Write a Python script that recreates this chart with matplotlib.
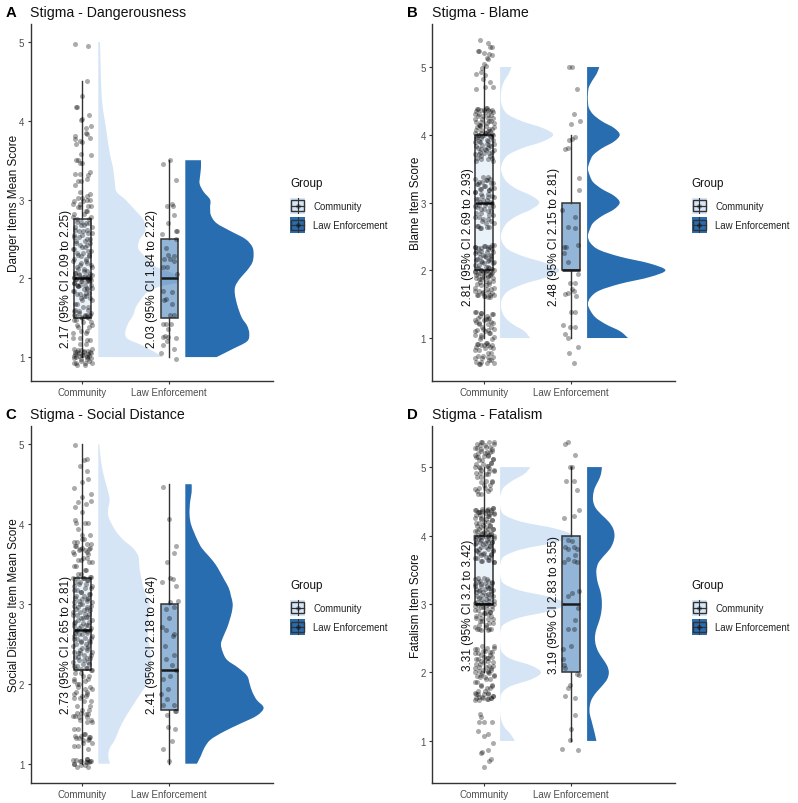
import matplotlib
matplotlib.use("Agg")
import matplotlib.pyplot as plt
import numpy as np
from matplotlib.legend_handler import HandlerBase
from matplotlib.lines import Line2D
from matplotlib.patches import Patch, PathPatch, Rectangle
from matplotlib.path import Path

plt.rcParams['font.family'] = ['Liberation Sans', 'DejaVu Sans']

groups = ["Community", "Law Enforcement"]
titles = ["Stigma - Dangerousness", "Stigma - Blame", "Stigma - Social Distance", "Stigma - Fatalism"]
tags = ["A", "B", "C", "D"]
ylabels = ["Danger Items Mean Score", "Blame Item Score", "Social Distance Item Mean Score", "Fatalism Item Score"]
ylims = [(0.70, 5.23), (0.37, 5.635), (0.762, 5.229), (0.39, 5.60)]

ci_text_comm = ["2.17 (95% CI 2.09 to 2.25)", "2.81 (95% CI 2.69 to 2.93)", "2.73 (95% CI 2.65 to 2.81)", "3.31 (95% CI 3.2 to 3.42)"]
ci_text_le = ["2.03 (95% CI 1.84 to 2.22)", "2.48 (95% CI 2.15 to 2.81)", "2.41 (95% CI 2.18 to 2.64)", "3.19 (95% CI 2.83 to 3.55)"]
ci_y = [2.0, 2.5, 2.5, 3.0]

# low whisker, q1, median, q3, high whisker
box_comm = [(1, 1.5, 2, 2.75, 4.5), (1, 2, 3, 4, 5), (1, 2.17, 2.67, 3.33, 5), (2, 3, 3, 4, 5)]
box_le = [(1, 1.5, 2, 2.5, 3.5), (1, 2, 2, 3, 4), (1, 1.67, 2.17, 3, 4.5), (1, 2, 3, 4, 5)]

# densities
dens_a_comm_y = [1.0, 1.14, 1.23, 1.31, 1.42, 1.53, 1.65, 1.82, 1.9, 1.95, 2.05, 2.15, 2.25, 2.38, 2.5, 2.6, 2.74, 2.87, 3.0, 3.1, 3.22, 3.4, 3.6, 3.9, 4.3, 5.0]
dens_a_comm_w = [0.75, 0.52, 0.34, 0.31, 0.34, 0.40, 0.44, 0.56, 0.72, 0.92, 0.88, 0.66, 0.56, 0.46, 0.48, 0.54, 0.52, 0.42, 0.31, 0.21, 0.19, 0.17, 0.13, 0.09, 0.04, 0.02]
dens_a_le_y = [1.0, 1.1, 1.2, 1.3, 1.4, 1.5, 1.65, 1.8, 1.9, 2.0, 2.1, 2.2, 2.3, 2.4, 2.5, 2.6, 2.7, 2.8, 2.9, 3.0, 3.1, 3.2, 3.3, 3.4, 3.5]
dens_a_le_w = [0.36, 0.54, 0.71, 0.735, 0.71, 0.65, 0.60, 0.57, 0.575, 0.63, 0.71, 0.77, 0.785, 0.77, 0.69, 0.52, 0.36, 0.295, 0.285, 0.285, 0.21, 0.165, 0.17, 0.18, 0.18]

dens_b_y = [1.0, 1.1, 1.2, 1.3, 1.4, 1.5, 1.6, 1.7, 1.8, 1.9, 2.0, 2.1, 2.2, 2.3, 2.4, 2.5, 2.6, 2.7, 2.8, 2.9, 3.0,
            3.1, 3.2, 3.3, 3.4, 3.5, 3.6, 3.7, 3.8, 3.9, 4.0, 4.1, 4.2, 4.3, 4.4, 4.5, 4.6, 4.7, 4.8, 4.9, 5.0]
dens_b_comm_w = [0.345, 0.28, 0.15, 0.06, 0.02, 0.01, 0.03, 0.10, 0.28, 0.54, 0.68, 0.54, 0.28, 0.10, 0.03, 0.01, 0.03, 0.08, 0.19, 0.36, 0.45,
                 0.36, 0.19, 0.08, 0.03, 0.01, 0.03, 0.09, 0.25, 0.49, 0.61, 0.49, 0.25, 0.09, 0.03, 0.01, 0.01, 0.02, 0.05, 0.10, 0.13]
dens_b_le_w = [0.47, 0.38, 0.22, 0.10, 0.04, 0.01, 0.04, 0.14, 0.38, 0.72, 0.90, 0.72, 0.38, 0.14, 0.04, 0.01, 0.03, 0.07, 0.17, 0.31, 0.375,
               0.31, 0.17, 0.07, 0.03, 0.01, 0.03, 0.07, 0.17, 0.31, 0.375, 0.31, 0.17, 0.07, 0.02, 0.01, 0.01, 0.02, 0.06, 0.11, 0.14]

dens_c_comm_y = [1.0, 1.1, 1.2, 1.3, 1.5, 1.7, 1.9, 2.0, 2.2, 2.4, 2.6, 2.8, 3.0, 3.1, 3.2, 3.3, 3.4, 3.5, 3.6, 3.7, 3.8, 3.9, 4.0, 4.1, 4.2, 4.3, 4.4, 4.6, 4.8, 5.0]
dens_c_comm_w = [0.134, 0.115, 0.134, 0.19, 0.27, 0.38, 0.50, 0.56, 0.60, 0.60, 0.57, 0.58, 0.59, 0.555, 0.52, 0.50, 0.48, 0.47, 0.46, 0.40, 0.29, 0.21, 0.155, 0.115, 0.115, 0.13, 0.115, 0.065, 0.03, 0.012]
dens_c_le_y = [1.0, 1.1, 1.2, 1.3, 1.4, 1.5, 1.6, 1.7, 1.8, 1.9, 2.0, 2.1, 2.2, 2.3, 2.4, 2.5, 2.6, 2.7, 2.8, 2.9, 3.0,
               3.1, 3.2, 3.3, 3.4, 3.5, 3.6, 3.7, 3.8, 3.9, 4.0, 4.1, 4.2, 4.3, 4.4, 4.5]
dens_c_le_w = [0.134, 0.18, 0.22, 0.29, 0.44, 0.63, 0.82, 0.90, 0.82, 0.77, 0.74, 0.71, 0.61, 0.48, 0.43, 0.41, 0.44, 0.48, 0.51, 0.535, 0.545,
               0.525, 0.50, 0.45, 0.40, 0.345, 0.27, 0.19, 0.14, 0.10, 0.065, 0.05, 0.05, 0.058, 0.073, 0.073]

dens_d_comm_w = [0.17, 0.12, 0.05, 0.015, 0.003, 0.0, 0.003, 0.02, 0.12, 0.36, 0.47, 0.36, 0.12, 0.02, 0.003, 0.0, 0.005, 0.04, 0.22, 0.58, 0.75,
                 0.58, 0.22, 0.04, 0.005, 0.0, 0.005, 0.05, 0.25, 0.64, 0.83, 0.64, 0.25, 0.05, 0.005, 0.0, 0.005, 0.04, 0.14, 0.28, 0.35]
dens_d_le_w = [0.107, 0.09, 0.07, 0.05, 0.03, 0.03, 0.05, 0.10, 0.17, 0.23, 0.25, 0.23, 0.18, 0.13, 0.10, 0.09, 0.10, 0.125, 0.15, 0.165, 0.17,
               0.165, 0.15, 0.125, 0.11, 0.107, 0.13, 0.19, 0.26, 0.30, 0.315, 0.30, 0.25, 0.17, 0.10, 0.07, 0.07, 0.09, 0.13, 0.16, 0.17]

# jitter offsets for the crowded community points, used by all panels
dense_jitter = [-.06, .03, -.09, .08, -.02, .10, -.07, .05, -.10, .01, .07, -.04, .09, -.08, .02, -.05, .11, -.03, .06, -.11,
                .04, -.01, .08, -.06, .10, -.09, .00, .05, -.07, .03, .09, -.04, -.10, .07, .01, -.08, .11, -.02, .04, -.06,
                .08, -.11, .02, .06, -.05, .10, -.03, -.09, .05, .00, .07, -.07, .09, -.01, -.10, .03, .11, -.04, -.08, .06,
                .02, -.06, .10, -.02, .04, -.09, .08, -.05, .01, .07, -.11, .03, -.03, .09, -.07, .05, -.10, .00, .11, -.04,
                .06, -.08, .02, .08, -.01, -.06, .10, -.09, .04, -.03, .07, -.11, .01, .09, -.05, .03, -.07, .11, -.02, .05,
                -.10, .06, -.04, .08, .00, -.08, .10, -.06, .02, .07, -.01, -.09, .04, .09, -.03, -.11, .06, -.05, .11, .01,
                -.07, .08, -.02, .03, -.10, .05, .10, -.04, -.08, .07, -.06, .00, .09, .02, -.03, .04, -.09, .06, .11, -.05]

# community points: y values of the crowded part, then the loose ones with their own jitter
comm_a_y = [.90, .92, .93, .95, .97, .99, 1.00, 1.01, 1.02, 1.03, 1.04, 1.05, 1.06, 1.07, 1.08, 1.09, 1.10,
            1.17, 1.22, 1.24, 1.30, 1.33, 1.38, 1.41, 1.44, 1.47, 1.50, 1.51, 1.52, 1.53, 1.54, 1.56, 1.58, 1.60, 1.64, 1.68,
            1.72, 1.75, 1.78, 1.80, 1.82, 1.84, 1.86, 1.88, 1.90, 1.91, 1.92, 1.94, 1.96, 1.97, 1.98, 1.99, 2.00, 2.01, 2.02,
            2.03, 2.04, 2.05, 2.07, 2.09, 2.12, 2.15, 2.17, 2.20, 2.22, 2.25, 2.28, 2.30, 2.32, 2.35, 2.37, 2.40, 2.42, 2.45,
            2.47, 2.50, 2.52, 2.55, 2.58, 2.60, 2.62, 2.65, 2.68, 2.70, 2.72, 2.75, 2.78, 2.82, 2.85, 2.90, 2.92, 2.95, 2.98, 3.00, 3.02]
comm_a_loose_y = [4.98, 4.95, 4.50, 4.32, 4.17, 4.17, 4.08, 4.02, 4.01, 3.93, 3.91, 3.81, 3.85, 3.83, 3.78, 3.77, 3.70, 3.73, 3.74, 3.56, 3.58,
                  3.50, 3.50, 3.47, 3.47, 3.35, 3.33, 3.33, 3.26, 3.31, 3.23, 3.23, 3.18, 3.10, 3.07, 3.05]
comm_a_loose_j = [-.08, .07, .05, .00, -.07, -.06, .08, .00, -.01, .10, .04, -.08, .04, .06, .09, -.08, -.07, .00, -.03, .10, -.01,
                  -.05, -.07, .00, -.03, .09, -.08, -.03, .06, .07, -.05, -.01, -.08, -.03, .09, .06]

comm_b_y = [.61, .63, .65, .68, .70, .72, .74, .78, .82, .85, .87, .89, .90, .91, .93, .98, 1.02, 1.05, 1.07, 1.10, 1.12, 1.14, 1.17, 1.20, 1.22, 1.24, 1.26, 1.28, 1.30, 1.33, 1.35, 1.37, 1.38,
            1.61, 1.62, 1.63, 1.64, 1.66, 1.68, 1.70, 1.72, 1.74, 1.78, 1.80, 1.82, 1.84, 1.87, 1.88, 1.90, 1.92, 1.93, 1.95, 1.96, 1.97, 1.98, 1.99, 2.00, 2.01, 2.02, 2.04, 2.05, 2.08, 2.10, 2.12, 2.14, 2.15, 2.17, 2.19, 2.21, 2.23, 2.25, 2.27, 2.29, 2.31, 2.33, 2.34, 2.35, 2.36, 2.37,
            2.62, 2.64, 2.66, 2.70, 2.73, 2.76, 2.78, 2.82, 2.85, 2.87, 2.90, 2.93, 2.95, 2.97, 2.99, 3.01, 3.03, 3.05, 3.08, 3.10, 3.13, 3.15, 3.18, 3.20, 3.22, 3.25, 3.27, 3.29, 3.31, 3.33, 3.35, 3.37,
            3.62, 3.64, 3.66, 3.68, 3.71, 3.73, 3.75, 3.77, 3.79, 3.81, 3.83, 3.85, 3.87, 3.89, 3.91, 3.93, 3.95, 3.97, 3.98, 3.99, 4.00, 4.01, 4.02, 4.03, 4.05, 4.07, 4.09, 4.11, 4.13, 4.15, 4.17, 4.19, 4.21, 4.23, 4.25, 4.27, 4.29, 4.31, 4.33, 4.35, 4.36, 4.37, 4.38, 4.39]
comm_b_loose_y = [5.40, 5.35, 5.30, 5.29, 5.24, 5.23, 5.20, 5.19, 5.18, 5.13, 5.12, 5.05, 5.02, 4.98, 4.93, 4.90, 4.88, 4.82, 4.78, 4.70, 4.70, 4.68]
comm_b_loose_j = [-.05, .05, .09, .07, -.06, -.07, .00, .06, .09, .03, .05, .00, .02, -.02, -.03, -.09, .01, -.01, .07, .01, .10, -.09]

comm_c_y = [.96, .98, 1.00, 1.02, 1.03, 1.04, 1.05, 1.06, 1.22, 1.26, 1.30, 1.32, 1.34, 1.35, 1.37, 1.44, 1.52, 1.55, 1.58, 1.60, 1.62, 1.64, 1.67, 1.72, 1.78, 1.82, 1.85, 1.87, 1.90, 1.93, 1.96, 2.00, 2.03, 2.06, 2.10, 2.14,
            2.17, 2.18, 2.20, 2.22, 2.25, 2.27, 2.30, 2.32, 2.34, 2.36, 2.38, 2.40, 2.42, 2.45, 2.47, 2.50, 2.52, 2.54, 2.56, 2.58, 2.60, 2.62, 2.64, 2.66, 2.67, 2.68, 2.70, 2.72, 2.74, 2.76, 2.78, 2.80, 2.82, 2.84, 2.86, 2.88, 2.90, 2.92, 2.94, 2.96, 2.98,
            3.00, 3.02, 3.04, 3.06, 3.08, 3.10, 3.12, 3.15, 3.18, 3.20, 3.23, 3.25, 3.28, 3.30, 3.32, 3.33, 3.34, 3.38, 3.42, 3.48, 3.52, 3.55, 3.58, 3.62, 3.65, 3.67, 3.69, 3.70, 3.72, 3.75, 3.78, 3.82]
comm_c_loose_y = [4.99, 4.82, 4.80, 4.73, 4.67, 4.56, 4.53, 4.45, 4.38, 4.34, 4.28, 4.29, 4.25, 4.22, 4.15, 4.05, 4.02, 4.01, 4.01, 3.94, 3.87, 3.87, 1.31, 1.18, 1.02]
comm_c_loose_j = [-.08, .06, .02, -.03, .05, .07, .00, -.09, .10, .00, -.05, .10, .04, -.08, .00, -.08, -.07, .03, .07, -.05, .09, .00, .08, .07, .06]

comm_d_y = [1.60, 1.61, 1.62, 1.63, 1.64, 1.66, 1.68, 1.69, 1.70, 1.73, 1.78, 1.80, 1.82, 1.86, 1.90, 1.93, 1.95, 1.97, 1.99, 2.00, 2.02, 2.04, 2.06, 2.08, 2.10, 2.12, 2.15, 2.17, 2.19, 2.21, 2.23, 2.26, 2.28, 2.30, 2.32, 2.34, 2.36, 2.38,
            2.62, 2.63, 2.64, 2.66, 2.70, 2.72, 2.75, 2.78, 2.80, 2.83, 2.85, 2.87, 2.89, 2.91, 2.93, 2.95, 2.97, 2.99, 3.00, 3.01, 3.03, 3.05, 3.07, 3.09, 3.11, 3.13, 3.15, 3.17, 3.19, 3.20, 3.22, 3.24, 3.26, 3.27, 3.29, 3.30, 3.32, 3.34, 3.36, 3.38,
            3.62, 3.63, 3.65, 3.67, 3.69, 3.71, 3.73, 3.75, 3.77, 3.79, 3.81, 3.83, 3.85, 3.87, 3.89, 3.90, 3.91, 3.93, 3.95, 3.97, 3.98, 3.99, 4.00, 4.01, 4.02, 4.03, 4.05, 4.07, 4.09, 4.10, 4.12, 4.14, 4.16, 4.18, 4.20, 4.22, 4.24, 4.26, 4.28, 4.30, 4.32, 4.33, 4.34, 4.35, 4.36, 4.37, 4.38, 4.39, 4.40,
            4.60, 4.65, 4.68, 4.70, 4.74, 4.78, 4.80, 4.85, 4.90, 4.92, 4.94, 4.96, 4.98, 5.00, 5.02, 5.04, 5.06, 5.10, 5.12, 5.14, 5.16, 5.18, 5.20, 5.22, 5.24, 5.26, 5.28, 5.30, 5.32, 5.34, 5.36, 5.37]
comm_d_loose_y = [.62, .71, .74, .82, .84, .87, .97, 1.07, 1.10, 1.15, 1.27, 1.28, 1.28, 1.39, 1.35]
comm_d_loose_j = [.00, .06, .08, -.03, -.02, .04, .10, .00, .05, -.07, -.06, .00, .09, -.05, -.03]

# law enforcement points
le_a_y = [3.45, 3.50, 3.25, 2.92, 2.94, 2.92, 2.80, 2.70, 2.60, 2.60, 2.56, 2.50, 2.39, 2.30, 2.29, 2.25, 2.24, 2.22, 2.15, 2.14, 2.05,
          1.84, 1.83, 1.74, 1.68, 1.72, 1.53, 1.53, 1.42, 1.42, 1.42, 1.36, 1.27, 1.26, 1.26, 1.24, 1.20, 1.15, 1.10, 1.05, .97]
le_a_j = [-.07, .01, .08, -.03, .03, .04, .05, -.01, .08, .09, -.08, .08, -.04, -.01, .05, -.06, .01, .05, -.07, -.03, .09,
          -.07, .03, -.04, .03, -.06, .01, .05, -.04, -.07, .02, -.01, -.05, -.07, -.01, .08, -.03, -.07, .05, -.09, .08]
le_b_y = [5.0, 5.0, 4.67, 4.30, 4.20, 4.16, 3.97, 3.94, 3.92, 3.80, 3.79, 3.36, 3.18, 2.89, 2.78, 2.64, 2.63, 2.35, 2.38, 2.35, 2.25, 2.12, 1.95,
          1.81, 1.81, 1.72, 1.70, 1.67, 1.65, 1.62, 1.39, 1.39, 1.19, 1.17, 1.17, 1.06, 1.0, .87, .78, .63]
le_b_j = [-.02, .01, .07, .03, .10, .00, .05, .01, -.02, -.04, -.07, .09, .09, -.10, .05, -.03, .04, -.08, .08, -.06, -.08, -.03, .08,
          -.01, .05, .01, .03, -.03, -.07, .06, .00, .05, -.09, -.01, .05, -.07, -.03, .08, -.02, .03]
le_c_y = [4.47, 4.07, 3.73, 3.64, 3.52, 3.27, 3.33, 3.31, 3.23, 3.04, 3.02, 2.96, 2.94, 2.83, 2.71, 2.68, 2.63, 2.60, 2.47, 2.36, 2.31, 2.23, 2.17,
          2.06, 2.10, 1.87, 1.94, 1.81, 1.74, 1.74, 1.66, 1.66, 1.61, 1.46, 1.43, 1.28, 1.18, 1.03]
le_c_j = [-.07, .00, .08, .05, -.03, -.08, .01, .04, .08, .10, .01, .05, -.04, .00, -.08, -.04, .05, .04, -.05, .05, -.04, .03, .08,
          -.07, .01, -.09, -.01, -.03, .05, -.07, .08, .07, -.03, -.02, .07, .03, -.07, .00]
le_d_y = [5.34, 5.37, 5.17, 5.0, 5.0, 4.79, 4.79, 4.66, 4.37, 4.29, 4.25, 3.93, 3.92, 3.83, 3.81, 3.83, 3.81, 3.71, 3.66, 3.61, 3.63, 3.61, 3.19, 3.16, 3.12,
          2.94, 2.77, 2.64, 2.63, 2.39, 2.35, 2.20, 2.11, 2.06, 1.98, 1.96, 1.81, 1.78, 1.65, 1.63, 1.38, 1.18, 1.01, .88, .87]
le_d_j = [-.07, -.03, .05, -.01, .01, -.06, .03, .07, .09, .03, -.08, -.03, .01, -.07, -.03, .03, .07, .05, -.03, -.08, .03, .07, .09, .01, -.03,
          .08, .05, -.03, .03, .00, -.09, -.09, -.08, -.07, .07, .09, -.01, -.03, -.07, .05, .05, .00, -.01, -.10, .08]

COMM_COL = "#D5E5F5"
LE_COL = "#296DB1"
BOX_EDGE = "#333333"
VIOLIN_NUDGE = 0.184
FIG_W, FIG_H = 798, 804
# axes boxes in pixels: left, top
AX_POS = [(30.5, 25), (432.3, 25), (30.5, 427), (432.3, 427)]
AX_W, AX_H = 242.5, 356.7


class BoxKey(HandlerBase):
    def create_artists(self, legend, orig_handle, xdescent, ydescent, width, height, fontsize, trans):
        x0, y0 = -xdescent, -ydescent
        col = orig_handle.get_facecolor()
        bg = Rectangle((x0, y0), width, height, facecolor=col, edgecolor='none')
        box = Rectangle((x0 + 0.07 * width, y0 + 0.17 * height), 0.86 * width, 0.66 * height,
                        facecolor=col, edgecolor=BOX_EDGE, lw=1.0)
        whisk = Line2D([x0 + width / 2] * 2, [y0 + 0.03 * height, y0 + 0.97 * height], color=BOX_EDGE, lw=0.8)
        med = Line2D([x0 + 0.07 * width, x0 + 0.93 * width], [y0 + height / 2] * 2, color=BOX_EDGE, lw=0.9)
        dot = Line2D([x0 + width / 2], [y0 + height / 2], marker='o', ms=3.4, color='black', alpha=0.4, mew=0)
        artists = [bg, box, whisk, med, dot]
        for a in artists:
            a.set_transform(trans)
        return artists


def draw_violin(ax, base, y, w, col):
    # smooth outline through the read points (catmull-rom as bezier segments)
    pts = np.column_stack([base + np.array(w), y])
    verts = [(base, y[0]), tuple(pts[0])]
    codes = [Path.MOVETO, Path.LINETO]
    for k in range(len(pts) - 1):
        p0 = pts[max(k - 1, 0)]
        p1, p2 = pts[k], pts[k + 1]
        p3 = pts[min(k + 2, len(pts) - 1)]
        c1 = p1 + (p2 - p0) / 6
        c2 = p2 - (p3 - p1) / 6
        c1[0], c2[0] = max(c1[0], base), max(c2[0], base)
        verts += [tuple(c1), tuple(c2), tuple(p2)]
        codes += [Path.CURVE4] * 3
    verts += [(base, y[-1]), (base, y[0])]
    codes += [Path.LINETO, Path.CLOSEPOLY]
    ax.add_patch(PathPatch(Path(verts, codes), facecolor=col, edgecolor='none', zorder=1))


def draw_box(ax, stats, pos, col):
    low, q1, med, q3, high = stats
    parts = ax.bxp([{'whislo': low, 'q1': q1, 'med': med, 'q3': q3, 'whishi': high, 'fliers': []}],
                   positions=[pos], widths=0.2, patch_artist=True, showcaps=False, showfliers=False,
                   manage_ticks=False, zorder=3,
                   boxprops={'edgecolor': BOX_EDGE, 'linewidth': 1.1},
                   whiskerprops={'color': BOX_EDGE, 'linewidth': 1.0},
                   medianprops={'color': '#1a1a1a', 'linewidth': 1.8})
    parts['boxes'][0].set_facecolor(matplotlib.colors.to_rgba(col, 0.5))


def draw_panel(i, comm_dens, le_dens, comm_pts, le_pts):
    left, top = AX_POS[i]
    ax = fig.add_axes([left / FIG_W, 1 - (top + AX_H) / FIG_H, AX_W / FIG_W, AX_H / FIG_H])

    draw_violin(ax, 1 + VIOLIN_NUDGE, comm_dens[0], comm_dens[1], COMM_COL)
    draw_violin(ax, 2 + VIOLIN_NUDGE, le_dens[0], le_dens[1], LE_COL)

    draw_box(ax, box_comm[i], 1, COMM_COL)
    draw_box(ax, box_le[i], 2, LE_COL)

    for pos, (j, y) in ((1, comm_pts), (2, le_pts)):
        ax.scatter(pos + np.array(j), y, s=13, color='black', alpha=0.33, lw=0, zorder=4)

    ax.text(0.81, ci_y[i], ci_text_comm[i], rotation=90, ha='center', va='center', fontsize=8.5, color='#111111', zorder=5)
    ax.text(1.80, ci_y[i], ci_text_le[i], rotation=90, ha='center', va='center', fontsize=8.5, color='#111111', zorder=5)

    ax.set_xlim(0.405, 3.192)
    ax.set_ylim(*ylims[i])
    ax.set_xticks([1, 2], groups)
    ax.set_yticks([1, 2, 3, 4, 5])
    ax.tick_params(labelsize=7, labelcolor='#4d4d4d', color='#333333', length=2.5, width=0.8, pad=2)
    ax.spines[['top', 'right']].set_visible(False)
    ax.spines[['left', 'bottom']].set_linewidth(1.0)
    ax.spines[['left', 'bottom']].set_color('#333333')
    ax.set_ylabel(ylabels[i], fontsize=8.45, color='#111111', labelpad=-1)
    ax.set_title(titles[i], loc='left', fontsize=10.2, color='#111111', pad=6)
    ax.annotate(tags[i], xy=(0, 1), xycoords='axes fraction', xytext=(-18, 6), textcoords='offset points',
                fontsize=10.7, fontweight='bold', color='black')

    handles = [Patch(facecolor=COMM_COL), Patch(facecolor=LE_COL)]
    leg = ax.legend(handles, groups, title="Group", handler_map={Patch: BoxKey()}, frameon=False,
                    loc='upper left', bbox_to_anchor=(1.07, 0.572), borderpad=0, borderaxespad=0,
                    fontsize=6.9, title_fontsize=8.4, handlelength=1.6, handleheight=2.2,
                    labelspacing=0.32, handletextpad=0.85, alignment='left')
    leg._legend_box.sep = 6.5  # gap between title and keys
    leg.get_title().set_color('#111111')
    for t in leg.get_texts():
        t.set_color('#222222')


fig = plt.figure(figsize=(FIG_W / 100, FIG_H / 100), dpi=100)

# each crowded y list is used twice, with different jitter, to reach the density seen in the picture
draw_panel(0, (dens_a_comm_y, dens_a_comm_w), (dens_a_le_y, dens_a_le_w),
           (list(np.resize(dense_jitter, 2 * len(comm_a_y))) + comm_a_loose_j, comm_a_y * 2 + comm_a_loose_y), (le_a_j, le_a_y))
draw_panel(1, (dens_b_y, dens_b_comm_w), (dens_b_y, dens_b_le_w),
           (list(np.resize(dense_jitter, 2 * len(comm_b_y))) + comm_b_loose_j, comm_b_y * 2 + comm_b_loose_y), (le_b_j, le_b_y))
draw_panel(2, (dens_c_comm_y, dens_c_comm_w), (dens_c_le_y, dens_c_le_w),
           (list(np.resize(dense_jitter, 2 * len(comm_c_y))) + comm_c_loose_j, comm_c_y * 2 + comm_c_loose_y), (le_c_j, le_c_y))
draw_panel(3, (dens_b_y, dens_d_comm_w), (dens_b_y, dens_d_le_w),
           (list(np.resize(dense_jitter, 2 * len(comm_d_y))) + comm_d_loose_j, comm_d_y * 2 + comm_d_loose_y), (le_d_j, le_d_y))

fig.savefig("out.png", dpi=100)
